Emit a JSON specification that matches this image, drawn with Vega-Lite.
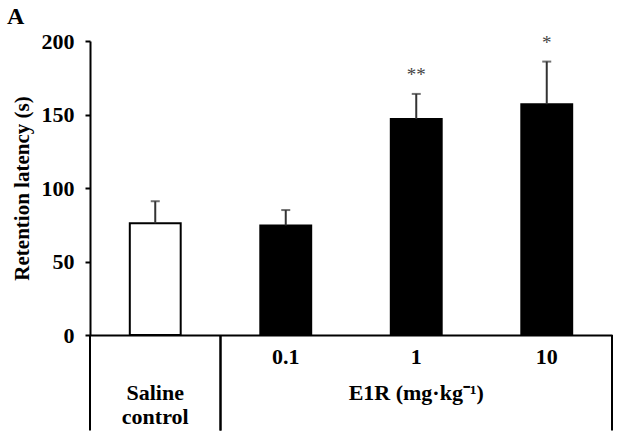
{
  "$schema": "https://vega.github.io/schema/vega-lite/v6.json",
  "width": 522,
  "height": 294,
  "autosize": {"type": "none"},
  "padding": {"left": 90, "top": 41, "right": 6, "bottom": 108},
  "title": {"text": "A", "anchor": "start", "frame": "group", "dx": -83, "offset": -18, "baseline": "alphabetic", "fontSize": 24, "fontWeight": "bold", "font": "Liberation Serif", "color": "black"},
  "config": {"view": {"stroke": null}, "font": "Liberation Serif"},
  "datasets": {
    "bars": [
      {"dose": "Saline control", "treatment": "Saline", "mean": 76, "upper": 91, "sig": ""},
      {"dose": "0.1", "treatment": "E1R", "mean": 74.5, "upper": 85, "sig": ""},
      {"dose": "1", "treatment": "E1R", "mean": 147, "upper": 164, "sig": "**"},
      {"dose": "10", "treatment": "E1R", "mean": 157, "upper": 186, "sig": "*"}
    ],
    "groups": [
      {"label": ["Saline", "control"], "first": "Saline control", "mid": "Saline control", "last": "Saline control"},
      {"label": "E1R (mg·kg⁻¹)", "first": "0.1", "mid": "1", "last": "10"}
    ]
  },
  "layer": [
    {
      "data": {"name": "bars"},
      "mark": {"type": "bar", "width": {"band": 0.39}, "stroke": "black", "strokeWidth": 2},
      "encoding": {
        "x": {"field": "dose", "type": "nominal", "sort": null,
          "scale": {"domain": ["Saline control", "0.1", "1", "10"], "paddingInner": 0, "paddingOuter": 0},
          "axis": {"title": null, "labelExpr": "datum.value == 'Saline control' ? '' : datum.value", "ticks": false, "labelAngle": 0, "labelFontSize": 22, "labelFontWeight": "bold", "labelColor": "black", "labelPadding": 11, "domainColor": "black", "domainWidth": 2, "grid": false}},
        "y": {"field": "mean", "type": "quantitative",
          "scale": {"domain": [0, 200], "nice": false},
          "axis": {"values": [0, 50, 100, 150, 200], "title": "Retention latency (s)", "titleFontSize": 21, "titleFontWeight": "bold", "titleColor": "black", "titlePadding": 9, "labelFontSize": 22, "labelFontWeight": "bold", "labelColor": "black", "labelPadding": 11, "tickColor": "black", "tickWidth": 2, "tickSize": 5, "domainColor": "black", "domainWidth": 2, "grid": false}},
        "fill": {"field": "treatment", "type": "nominal", "scale": {"domain": ["Saline", "E1R"], "range": ["white", "black"]}, "legend": null}
      }
    },
    {
      "data": {"name": "bars"},
      "mark": {"type": "rule", "color": "#333", "strokeWidth": 2},
      "encoding": {
        "x": {"field": "dose", "type": "nominal", "sort": null, "scale": {"domain": ["Saline control", "0.1", "1", "10"], "paddingInner": 0, "paddingOuter": 0}},
        "y": {"field": "mean", "type": "quantitative"},
        "y2": {"field": "upper"}
      }
    },
    {
      "data": {"name": "bars"},
      "mark": {"type": "tick", "color": "#333", "size": 9, "thickness": 2},
      "encoding": {
        "x": {"field": "dose", "type": "nominal", "sort": null, "scale": {"domain": ["Saline control", "0.1", "1", "10"], "paddingInner": 0, "paddingOuter": 0}},
        "y": {"field": "upper", "type": "quantitative"}
      }
    },
    {
      "data": {"name": "bars"},
      "mark": {"type": "text", "baseline": "alphabetic", "dy": -13, "fontSize": 19, "color": "#444", "font": "Liberation Serif"},
      "encoding": {
        "x": {"field": "dose", "type": "nominal", "sort": null, "scale": {"domain": ["Saline control", "0.1", "1", "10"], "paddingInner": 0, "paddingOuter": 0}},
        "y": {"field": "upper", "type": "quantitative"},
        "text": {"field": "sig"}
      }
    },
    {
      "data": {"name": "groups"},
      "mark": {"type": "rule", "color": "black", "strokeWidth": 2},
      "encoding": {
        "x": {"field": "first", "type": "nominal", "bandPosition": 0, "scale": {"domain": ["Saline control", "0.1", "1", "10"], "paddingInner": 0, "paddingOuter": 0}},
        "y": {"datum": 0},
        "y2": {"datum": -65}
      }
    },
    {
      "data": {"name": "groups"},
      "mark": {"type": "rule", "color": "black", "strokeWidth": 2},
      "encoding": {
        "x": {"field": "last", "type": "nominal", "bandPosition": 1, "scale": {"domain": ["Saline control", "0.1", "1", "10"], "paddingInner": 0, "paddingOuter": 0}},
        "y": {"datum": 0},
        "y2": {"datum": -65}
      }
    },
    {
      "data": {"name": "groups"},
      "mark": {"type": "text", "baseline": "alphabetic", "align": "center", "fontSize": 22, "fontWeight": "bold", "color": "black", "lineHeight": 24, "font": "Liberation Serif"},
      "encoding": {
        "x": {"field": "mid", "type": "nominal", "scale": {"domain": ["Saline control", "0.1", "1", "10"], "paddingInner": 0, "paddingOuter": 0}},
        "y": {"datum": -44.5},
        "text": {"field": "label"}
      }
    }
  ]
}
